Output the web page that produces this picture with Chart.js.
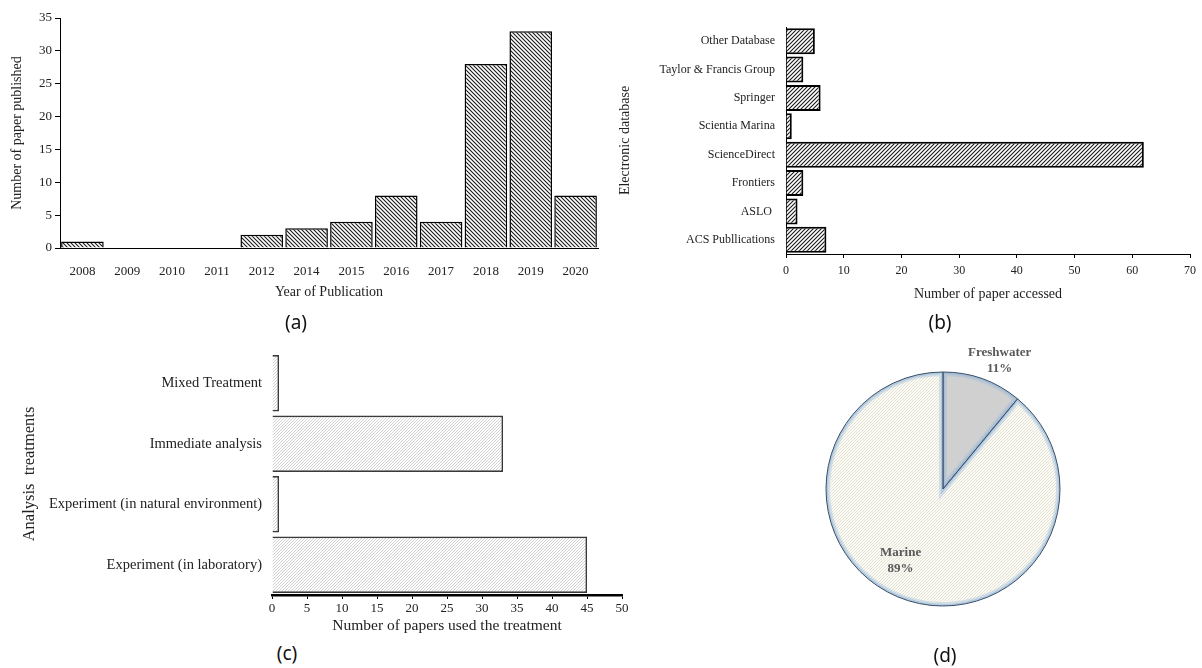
<!DOCTYPE html>
<html>
<head>
<meta charset="utf-8">
<script src="https://cdn.jsdelivr.net/npm/chart.js@4.4.0/dist/chart.umd.min.js"></script>
<style>
  html, body { margin: 0; padding: 0; background: #ffffff; }
  body { width: 1202px; height: 668px; position: relative; overflow: hidden; }
  .box { position: absolute; }
  .plabel { position: absolute; font-family: "Noto Sans", "DejaVu Sans", sans-serif; font-size: 19px; color: #111; transform: translateX(-50%); }
</style>
</head>
<body>
<div class="box" style="left:0;top:0;width:605px;height:305px;"><canvas id="ca"></canvas></div>
<div class="box" style="left:610px;top:0;width:592px;height:305px;"><canvas id="cb"></canvas></div>
<div class="box" style="left:0;top:330px;width:640px;height:308px;"><canvas id="cc"></canvas></div>
<div class="box" style="left:780px;top:330px;width:326px;height:318px;"><canvas id="cd"></canvas></div>
<div class="plabel" style="left:296px;top:309px;">(a)</div>
<div class="plabel" style="left:940px;top:309px;">(b)</div>
<div class="plabel" style="left:287px;top:640px;">(c)</div>
<div class="plabel" style="left:945px;top:642px;">(d)</div>
<script>
// ---------- DATA ----------
const yearLabels = ["2008","2009","2010","2011","2012","2014","2015","2016","2017","2018","2019","2020"];
const yearCounts = [1, 0, 0, 0, 2, 3, 4, 8, 4, 28, 33, 8];

const dbLabels = ["Other Database","Taylor & Francis Group","Springer","Scientia Marina","ScienceDirect","Frontiers","ASLO ","ACS Publlications"];
const dbCounts = [5, 3, 6, 1, 62, 3, 2, 7];

const treatLabels = ["Mixed Treatment","Immediate analysis","Experiment (in natural environment)","Experiment (in laboratory)"];
const treatCounts = [1, 33, 1, 45];

const waterLabels = ["Freshwater","Marine"];
const waterShares = [11, 89];

// ---------- HELPERS ----------
const SERIF = "'Liberation Serif', 'Times New Roman', serif";

function hatch(size, color, bg, width, dir) {
  const c = document.createElement('canvas');
  c.width = size; c.height = size;
  const g = c.getContext('2d');
  g.fillStyle = bg; g.fillRect(0, 0, size, size);
  g.strokeStyle = color; g.lineWidth = width;
  g.beginPath();
  if (dir === 'back') { // "\"
    g.moveTo(-1, -1); g.lineTo(size + 1, size + 1);
    g.moveTo(-1, size - 1); g.lineTo(1, size + 1);
    g.moveTo(size - 1, -1); g.lineTo(size + 1, 1);
  } else { // "/"
    g.moveTo(-1, size + 1); g.lineTo(size + 1, -1);
    g.moveTo(-1, 1); g.lineTo(1, -1);
    g.moveTo(size - 1, size + 1); g.lineTo(size + 1, size - 1);
  }
  g.stroke();
  return g.createPattern(c, 'repeat');
}

Chart.defaults.font.family = SERIF;
Chart.defaults.color = '#222';
Chart.defaults.animation = false;

const noLegend = { legend: { display: false }, tooltip: { enabled: false } };

// ---------- (a) ----------
new Chart(document.getElementById('ca'), {
  type: 'bar',
  data: { labels: yearLabels, datasets: [{
    data: yearCounts,
    backgroundColor: hatch(4, '#1a1a1a', '#ffffff', 1.1, 'back'),
    borderColor: '#000', borderWidth: 1.5,
    categoryPercentage: 1.0, barPercentage: 0.95
  }]},
  options: {
    responsive: true, maintainAspectRatio: false,
    layout: { padding: { top: 18, right: 7, left: 0, bottom: 0 } },
    plugins: noLegend,
    scales: {
      x: {
        grid: { display: false },
        border: { display: true, color: '#000', width: 1 },
        ticks: { font: { size: 13 }, padding: 8, color: '#222' },
        title: { display: true, text: 'Year of Publication', font: { size: 14 }, color: '#222', padding: { top: 2, bottom: 4 } },
        afterFit: s => { s.height = 57; }
      },
      y: {
        min: 0, max: 35,
        ticks: { stepSize: 5, font: { size: 13 }, padding: 3, color: '#222' },
        grid: { display: true, drawOnChartArea: false, drawTicks: true, tickLength: 5, color: '#000' },
        border: { display: true, color: '#000', width: 1 },
        title: { display: true, text: 'Number of paper published', font: { size: 14 }, color: '#222', padding: { top: 9, bottom: 2 } },
        afterFit: s => { s.width = 60; }
      }
    }
  }
});

// ---------- (b) ----------
new Chart(document.getElementById('cb'), {
  type: 'bar',
  data: { labels: dbLabels, datasets: [{
    data: dbCounts,
    backgroundColor: hatch(4, '#1a1a1a', '#ffffff', 1.1, 'fwd'),
    borderColor: '#000', borderWidth: 2,
    categoryPercentage: 1.0, barPercentage: 0.92
  }]},
  options: {
    indexAxis: 'y',
    responsive: true, maintainAspectRatio: false,
    layout: { padding: { top: 27, right: 12, left: 0, bottom: 0 } },
    plugins: noLegend,
    scales: {
      x: {
        min: 0, max: 70,
        ticks: { stepSize: 10, font: { size: 12 }, padding: 6, color: '#222' },
        grid: { display: true, drawOnChartArea: false, drawTicks: true, tickLength: 4, color: '#000' },
        border: { display: true, color: '#000', width: 1 },
        title: { display: true, text: 'Number of paper accessed', font: { size: 14 }, color: '#222', padding: { top: 2, bottom: 2 } },
        afterFit: s => { s.height = 51; }
      },
      y: {
        ticks: { font: { size: 12 }, padding: 3, color: '#222' },
        grid: { display: false },
        border: { display: true, color: '#000', width: 1 },
        title: { display: true, text: 'Electronic database', font: { size: 14 }, color: '#222', padding: { top: 7, bottom: 2 } },
        afterFit: s => { s.width = 176; }
      }
    }
  }
});

// ---------- (c) ----------
new Chart(document.getElementById('cc'), {
  type: 'bar',
  data: { labels: treatLabels, datasets: [{
    data: treatCounts,
    backgroundColor: hatch(3, '#c9c9c9', '#ffffff', 0.9, 'fwd'),
    borderColor: '#3a3a3a', borderWidth: 1.6,
    categoryPercentage: 1.0, barPercentage: 0.93
  }]},
  options: {
    indexAxis: 'y',
    responsive: true, maintainAspectRatio: false,
    layout: { padding: { top: 23, right: 18, left: 0, bottom: 0 } },
    plugins: noLegend,
    scales: {
      x: {
        min: 0, max: 50,
        ticks: { stepSize: 5, font: { size: 13 }, padding: 2, color: '#222' },
        grid: { display: true, drawOnChartArea: false, drawTicks: true, tickLength: 4, color: '#000' },
        border: { display: true, color: '#000', width: 2.5 },
        title: { display: true, text: 'Number of papers used the treatment', font: { size: 15.5 }, color: '#222', padding: { top: 2, bottom: 3 } },
        afterFit: s => { s.height = 43; }
      },
      y: {
        ticks: { font: { size: 14.5 }, padding: 2, color: '#222' },
        grid: { display: false },
        border: { display: false },
        title: { display: true, text: 'Analysis  treatments', font: { size: 16.5 }, color: '#222', padding: { top: 20, bottom: 2 } },
        afterFit: s => { s.width = 272; }
      }
    }
  }
});

// ---------- (d) ----------
const pieDecor = {
  id: 'pieDecor',
  afterDatasetsDraw(chart) {
    const ctx = chart.ctx;
    const meta = chart.getDatasetMeta(0);
    meta.data.forEach(arc => {
      const { x, y, startAngle, endAngle, outerRadius } = arc.getProps(['x','y','startAngle','endAngle','outerRadius'], true);
      ctx.save();
      ctx.beginPath();
      ctx.moveTo(x, y);
      ctx.arc(x, y, outerRadius, startAngle, endAngle);
      ctx.closePath();
      ctx.clip();
      ctx.lineWidth = 8;
      ctx.strokeStyle = 'rgba(150,182,218,0.35)';
      ctx.stroke();
      ctx.lineWidth = 4;
      ctx.strokeStyle = 'rgba(140,175,215,0.45)';
      ctx.stroke();
      ctx.restore();
      ctx.save();
      ctx.beginPath();
      ctx.moveTo(x, y);
      ctx.arc(x, y, outerRadius, startAngle, endAngle);
      ctx.closePath();
      ctx.lineWidth = 1;
      ctx.strokeStyle = '#3a4f68';
      ctx.stroke();
      ctx.restore();
    });
    // labels
    const place = [ { f: 1.2, da: 0.07 }, { f: 0.71, da: 0.19 } ];
    ctx.save();
    ctx.fillStyle = '#595959';
    ctx.font = "bold 13px " + SERIF;
    ctx.textAlign = 'center';
    ctx.textBaseline = 'middle';
    meta.data.forEach((arc, i) => {
      const { x, y, startAngle, endAngle, outerRadius } = arc.getProps(['x','y','startAngle','endAngle','outerRadius'], true);
      const mid = (startAngle + endAngle) / 2 + place[i].da;
      const r = outerRadius * place[i].f;
      const lx = x + Math.cos(mid) * r, ly = y + Math.sin(mid) * r;
      ctx.fillText(waterLabels[i], lx, ly - 8);
      ctx.fillText(waterShares[i] + '%', lx, ly + 8);
    });
    ctx.restore();
  }
};

new Chart(document.getElementById('cd'), {
  type: 'pie',
  data: { labels: waterLabels, datasets: [{
    data: waterShares,
    backgroundColor: ['#d0d0d0', hatch(3, '#dcdcd0', '#fbfbf4', 0.8, 'fwd')],
    borderWidth: 0
  }]},
  options: {
    responsive: true, maintainAspectRatio: false,
    layout: { padding: { top: 42, bottom: 42, left: 46, right: 46 } },
    plugins: noLegend
  },
  plugins: [pieDecor]
});
</script>
</body>
</html>
